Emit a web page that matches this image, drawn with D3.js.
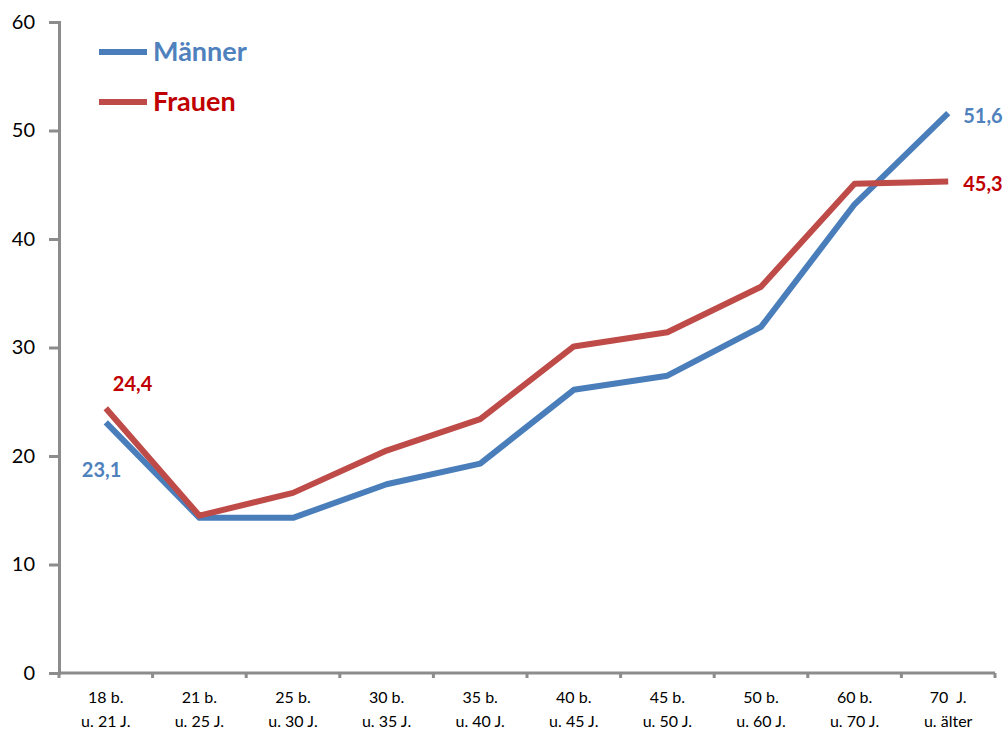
<!DOCTYPE html>
<html>
<head>
<meta charset="utf-8">
<script src="https://cdn.jsdelivr.net/npm/d3@7"></script>
<style>
  html, body { margin: 0; padding: 0; background: #fff; }
  svg { display: block; }
  text { font-family: Lato, "Open Sans", sans-serif; }
</style>
</head>
<body>
<svg id="chart" width="1006" height="731"></svg>
<script>
// Age groups (two-line labels)
const categories = [
  ["18 b.", "u. 21 J."],
  ["21 b.", "u. 25 J."],
  ["25 b.", "u. 30 J."],
  ["30 b.", "u. 35 J."],
  ["35 b.", "u. 40 J."],
  ["40 b.", "u. 45 J."],
  ["45 b.", "u. 50 J."],
  ["50 b.", "u. 60 J."],
  ["60 b.", "u. 70 J."],
  ["70\u00a0\u00a0J.", "u. älter"]
];
const maenner = [23.1, 14.3, 14.3, 17.4, 19.3, 26.1, 27.4, 31.9, 43.2, 51.6];
const frauen  = [24.4, 14.5, 16.6, 20.5, 23.4, 30.1, 31.4, 35.6, 45.1, 45.3];
const yTicks = [0, 10, 20, 30, 40, 50, 60];

const svg = d3.select("#chart");
const plotLeft = 59, plotRight = 995, plotTop = 22, plotBottom = 673;

const x = d3.scaleBand().domain(d3.range(categories.length)).range([plotLeft, plotRight]);
const y = d3.scaleLinear().domain([0, 60]).range([plotBottom, plotTop]);

const axisColor = "#8c8c8c";

// Y axis
const yAxis = svg.append("g").attr("transform", `translate(${plotLeft},0)`)
  .call(d3.axisLeft(y).tickValues(yTicks).tickSize(10).tickPadding(14));
yAxis.select(".domain").attr("stroke", axisColor).attr("stroke-width", 3);
yAxis.selectAll(".tick line").attr("stroke", axisColor).attr("stroke-width", 3);
yAxis.selectAll(".tick text").attr("font-size", 20).attr("fill", "#000")
  .attr("font-family", "Lato, 'Open Sans', sans-serif");

// X axis: ticks sit on the boundaries between categories
const xg = svg.append("g");
xg.append("line").attr("x1", plotLeft).attr("x2", plotRight).attr("y1", plotBottom).attr("y2", plotBottom)
  .attr("stroke", axisColor).attr("stroke-width", 3);
const boundaries = d3.range(categories.length + 1).map(i =>
  i < categories.length ? x(i) : x(categories.length - 1) + x.bandwidth());
xg.selectAll("line.tk").data(boundaries).join("line").attr("class", "tk")
  .attr("x1", d => d).attr("x2", d => d).attr("y1", plotBottom).attr("y2", plotBottom + 5)
  .attr("stroke", axisColor).attr("stroke-width", 3);
const labels = xg.selectAll("text.cat").data(categories).join("text").attr("class", "cat")
  .attr("text-anchor", "middle").attr("font-size", 16).attr("fill", "#000");
labels.each(function(d, i) {
  const t = d3.select(this);
  const cx = x(i) + x.bandwidth() / 2;
  t.append("tspan").attr("x", cx).attr("y", 703).text(d[0]);
  t.append("tspan").attr("x", cx).attr("y", 727).text(d[1]);
});

// Lines
const line = d3.line().x((d, i) => x(i) + x.bandwidth() / 2).y(d => y(d));
const series = [
  { name: "Männer", values: maenner, stroke: "#4a7ebb", text: "#4f81bd" },
  { name: "Frauen", values: frauen,  stroke: "#be4b48", text: "#c00000" }
];
series.forEach(s => {
  svg.append("path").datum(s.values).attr("d", line)
    .attr("fill", "none").attr("stroke", s.stroke).attr("stroke-width", 6)
    .attr("stroke-linejoin", "round");
});

// Data labels at first and last points
const cx = i => x(i) + x.bandwidth() / 2;
const last = categories.length - 1;
const fmt = v => String(v).replace(".", ",");
svg.append("text").attr("x", cx(0) - 24).attr("y", y(maenner[0]) + 55)
  .attr("font-size", 20).attr("font-weight", "bold").attr("fill", series[0].text).text(fmt(maenner[0]));
svg.append("text").attr("x", cx(0) + 7).attr("y", y(frauen[0]) - 17)
  .attr("font-size", 20).attr("font-weight", "bold").attr("fill", series[1].text).text(fmt(frauen[0]));
svg.append("text").attr("x", cx(last) + 15).attr("y", y(maenner[last]) + 10)
  .attr("font-size", 20).attr("font-weight", "bold").attr("fill", series[0].text).text(fmt(maenner[last]));
svg.append("text").attr("x", cx(last) + 15).attr("y", y(frauen[last]) + 10)
  .attr("font-size", 20).attr("font-weight", "bold").attr("fill", series[1].text).text(fmt(frauen[last]));

// Legend
series.forEach((s, i) => {
  const ly = 52 + i * 50;
  svg.append("line").attr("x1", 99).attr("x2", 147).attr("y1", ly).attr("y2", ly)
    .attr("stroke", s.stroke).attr("stroke-width", 6);
  svg.append("text").attr("x", 153).attr("y", ly + 9)
    .attr("font-size", 27).attr("font-weight", "bold").attr("fill", s.text).text(s.name);
});
</script>
</body>
</html>
